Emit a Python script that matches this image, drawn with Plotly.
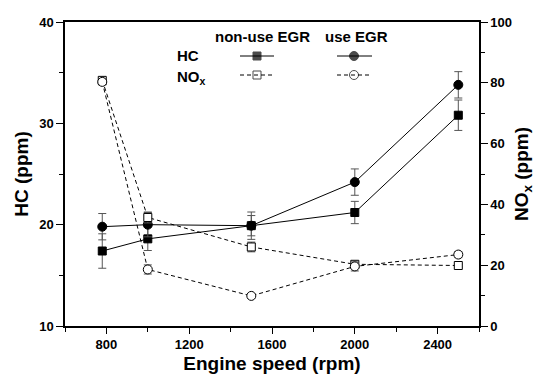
import plotly.graph_objects as go

speed = [780, 1000, 1500, 2000, 2500]
hc_non = [17.4, 18.6, 19.9, 21.2, 30.8]
hc_non_err = [1.7, 1.15, 1.0, 1.1, 1.5]
hc_egr = [19.8, 20.0, 19.9, 24.2, 33.8]
hc_egr_err = [1.3, 1.2, 1.35, 1.3, 1.3]
nox_non = [80.8, 35.7, 26.0, 20.3, 19.9]
nox_non_err = [1.0, 1.8, 1.6, 1.0, 0.5]
nox_egr = [80.3, 18.6, 9.9, 19.6, 23.5]
nox_egr_err = [1.0, 1.5, 0.6, 1.5, 1.0]

FONT = "Liberation Sans"
ecol = "#555555"
DASH = "4px,3px"

fig = go.Figure()

def add(y, err, sym, dash, axis, fill):
    fig.add_trace(go.Scatter(
        x=speed, y=y, yaxis=axis, mode="lines+markers",
        line=dict(color="black", width=1, dash=dash),
        marker=dict(symbol=sym, size=9 if sym == "circle" else 8, color=fill,
                    line=dict(color="black", width=1)),
        error_y=dict(type="data", array=err, color=ecol, thickness=1, width=4),
        showlegend=False))

add(hc_non, hc_non_err, "square", "solid", "y", "black")
add(hc_egr, hc_egr_err, "circle", "solid", "y", "black")
add(nox_non, nox_non_err, "square", DASH, "y2", "white")
add(nox_egr, nox_egr_err, "circle", DASH, "y2", "white")

tickf = dict(family=FONT, size=13, color="black", weight="bold")
titf = dict(family=FONT, size=19, color="black", weight="bold")

fig.update_layout(
    width=550, height=386, margin=dict(l=65, r=71, t=22, b=60),
    plot_bgcolor="white", paper_bgcolor="white",
    xaxis=dict(range=[600, 2600], tickvals=[800, 1200, 1600, 2000, 2400],
               ticks="outside", ticklen=6, tickcolor="black", tickfont=tickf,
               minor=dict(tickvals=[600, 1000, 1400, 1800, 2200, 2600], ticks="outside", ticklen=4, tickcolor="black"),
               showline=True, linecolor="black", linewidth=1.5, mirror=True,
               showgrid=False, zeroline=False, automargin=False,
               title=dict(text="Engine speed (rpm)", font=titf, standoff=5)),
    yaxis=dict(range=[10, 40], tickvals=[10, 20, 30, 40], ticks="outside", ticklen=7,
               tickcolor="black", tickfont=tickf,
               minor=dict(tickvals=[15, 25, 35], ticks="outside", ticklen=4, tickcolor="black"),
               showline=True, linecolor="black", linewidth=1.5,
               showgrid=False, zeroline=False, automargin=False,
               title=dict(text="HC (ppm)", font=titf, standoff=6)),
    yaxis2=dict(range=[0, 100], tickvals=[0, 20, 40, 60, 80, 100], ticks="outside", ticklen=7,
                tickcolor="black", tickfont=tickf, overlaying="y", side="right",
                minor=dict(tickvals=[10, 30, 50, 70, 90], ticks="outside", ticklen=4, tickcolor="black"),
                showline=True, linecolor="black", linewidth=1.5,
                showgrid=False, zeroline=False, automargin=False,
                title=dict(text="NO<sub>x</sub> (ppm)", font=titf, standoff=4)),
    xaxis2=dict(range=[0, 1], overlaying="x", visible=False, automargin=False),
    yaxis3=dict(range=[0, 1], overlaying="y", visible=False, automargin=False),
)

# custom legend (paper coordinates)
lf = dict(family=FONT, size=15, color="black", weight="bold")
def px(xp): return (xp - 65) / (479 - 65)
def py(yp): return 1 - (yp - 22) / (326 - 22)

def ann(x, y, t):
    fig.add_annotation(x=px(x), y=py(y), xref="paper", yref="paper", text=t, showarrow=False,
                       font=lf, xanchor="center", yanchor="middle")

ann(262, 37, "non-use EGR")
ann(356, 37, "use EGR")
ann(188, 56, "HC")
ann(191, 77, "NO<sub>x</sub>")

for (x0, x1, yy, dash) in [(240, 274, 56, "solid"), (337, 372, 56, "solid"),
                           (240, 274, 75, DASH), (337, 372, 75, DASH)]:
    fig.add_shape(type="line", xref="paper", yref="paper", x0=px(x0), x1=px(x1),
                  y0=py(yy), y1=py(yy), line=dict(color="black", width=1, dash=dash))

fig.add_trace(go.Scatter(x=[px(257), px(354), px(257), px(354)], y=[py(56), py(56), py(75), py(75)],
                         xaxis="x2", yaxis="y3", mode="markers", showlegend=False, hoverinfo="skip",
                         marker=dict(symbol=["square", "circle", "square", "circle"], size=[8, 9, 8, 9],
                                     color=["black", "black", "white", "white"],
                                     line=dict(color="black", width=1))))

fig.write_html("out.html", config={"displayModeBar": False},
               post_script="document.body.style.margin='0';")
